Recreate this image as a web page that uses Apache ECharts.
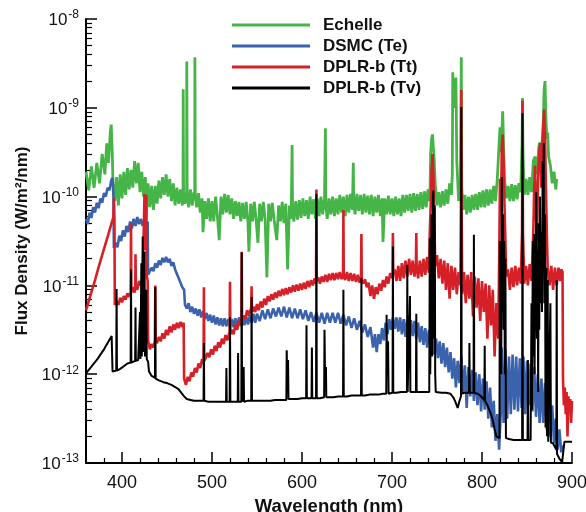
<!DOCTYPE html>
<html><head><meta charset="utf-8">
<script src="https://cdn.jsdelivr.net/npm/echarts@6/dist/echarts.min.js"></script>
<style>html,body{margin:0;padding:0;background:#fff}#c{width:586px;height:512px}</style>
</head><body><div id="c"></div>
<script>
// Series names (legend order)
const seriesNames = ['Echelle', 'DSMC (Te)', 'DPLR-b (Tt)', 'DPLR-b (Tv)'];
// Tick values
const xMajorTicks = [400, 500, 600, 700, 800, 900];
const xMinorTicks = [380, 420, 440, 460, 480, 520, 540, 560, 580, 620, 640, 660, 680, 720, 740, 760, 780, 820, 840, 860, 880];
const yDecades = [-13, -12, -11, -10, -9, -8];

// Data: [wavelength (nm), log10 flux density (W/m^2/nm)]
const echelleLog = [[360,-9.72],[363,-9.93],[366,-9.66],[369,-9.90],[372,-9.62],[375,-9.85],[378,-9.52],[381,-9.75],[383,-9.40],[385,-9.62],[387,-9.28],[388,-9.19],[389,-9.45],[390,-9.85],[392,-10.05],[394,-9.78],[396,-10.10],[398,-9.75],[400,-10.02],[402,-9.72],[404,-9.98],[406,-9.68],[408,-9.92],[410,-9.70],[412,-9.90],[414,-9.60],[416,-9.85],[418,-9.62],[420,-9.95],[422,-9.72],[424,-10.0],[426,-9.78],[427,-10.23],[429,-9.85],[431,-10.12],[433,-9.88],[435,-10.15],[437,-9.88],[439,-10.08],[441,-9.82],[443,-10.02],[445,-9.78],[447,-9.98],[449,-9.75],[451,-10.0],[453,-9.80],[455,-10.05],[457,-9.85],[459,-10.10],[461,-9.90],[463,-10.08],[465,-9.92],[467,-10.1],[467.8,-10.0],[468,-8.79],[468.4,-9.95],[470,-10.08],[471.8,-9.95],[472,-8.48],[472.4,-9.95],[474,-10.12],[476,-9.92],[478,-10.10],[480,-9.95],[480.8,-10.0],[481,-8.43],[481.4,-9.98],[483,-10.12],[485,-9.96],[487,-10.18],[489,-10.02],[490,-10.40],[492,-10.05],[494,-10.25],[496,-10.02],[498,-10.28],[500,-10.05],[502,-10.28],[504,-10.00],[506,-10.22],[508,-10.49],[510,-10.0],[512,-10.20],[514,-9.97],[516,-10.18],[518,-9.98],[520,-10.20],[522,-10.02],[524,-10.25],[526,-10.05],[528,-10.22],[530,-10.06],[532,-10.28],[534,-10.07],[536,-10.25],[538,-10.06],[540,-10.30],[541,-10.62],[543,-10.08],[545,-10.28],[547,-10.06],[549,-10.26],[551,-10.52],[553,-10.08],[555,-10.28],[557,-10.06],[559,-10.25],[561,-10.91],[563,-10.08],[565,-10.28],[567,-10.07],[569,-10.26],[572,-10.49],[574,-10.10],[576,-10.28],[578,-10.06],[580,-10.30],[582,-10.08],[584,-10.82],[586,-10.10],[588,-10.25],[589,-9.42],[589.5,-10.15],[591,-10.28],[593,-10.05],[595,-10.26],[597,-10.04],[599,-10.24],[601,-10.02],[603,-10.22],[605,-10.04],[607,-10.25],[609,-10.00],[611,-10.20],[613,-10.03],[615,-10.25],[617,-10.02],[619,-10.22],[621,-10.0],[623,-10.20],[625,-10.02],[626,-9.23],[626.5,-10.1],[628,-10.25],[630,-10.02],[632,-10.20],[634,-10.0],[636,-10.22],[638,-10.02],[640,-10.20],[642,-9.98],[644,-10.18],[646,-10.0],[648,-10.22],[650,-9.98],[652,-10.18],[654,-9.97],[656,-10.15],[657,-9.62],[657.5,-10.08],[659,-10.2],[661,-9.97],[663,-10.16],[665,-9.98],[667,-10.20],[669,-9.97],[671,-10.18],[673,-9.99],[675,-10.20],[677,-9.98],[679,-10.22],[681,-10.0],[683,-10.18],[685,-9.98],[687,-10.22],[689,-10.02],[690,-10.51],[692,-10.02],[694,-10.2],[696,-9.99],[698,-10.2],[700,-10.02],[702,-10.22],[704,-10.0],[706,-10.2],[708,-10.02],[710,-10.22],[712,-9.98],[714,-10.18],[716,-9.98],[718,-10.16],[720,-9.97],[722,-10.18],[724,-9.96],[726,-10.16],[728,-9.97],[730,-10.15],[732,-9.95],[734,-10.14],[736,-9.94],[738,-10.12],[740,-9.92],[742,-10.05],[743,-9.50],[744,-9.35],[745,-9.30],[746,-9.45],[747,-9.60],[748,-9.85],[750,-10.10],[752,-9.95],[754,-10.12],[756,-9.94],[758,-10.10],[760,-9.92],[762,-10.08],[764,-9.85],[766,-9.98],[767,-9.75],[767.5,-8.60],[768.5,-9.00],[771,-8.66],[772,-9.6],[774,-10.05],[776,-9.90],[777,-8.43],[777.5,-9.9],[779,-10.15],[781,-9.98],[783,-10.20],[785,-10.0],[787,-10.18],[789,-9.98],[791,-10.15],[793,-9.97],[795,-10.15],[797,-9.95],[799,-10.12],[801,-9.93],[803,-10.12],[805,-9.92],[807,-10.10],[809,-9.92],[811,-10.08],[813,-9.88],[815,-10.05],[817,-9.80],[819,-9.40],[820,-9.22],[821,-9.5],[822,-9.30],[823,-9.04],[824,-9.45],[825,-9.80],[827,-10.02],[829,-9.88],[831,-10.05],[833,-9.86],[835,-10.05],[837,-9.87],[839,-10.03],[841,-9.85],[843,-9.95],[844.5,-9.4],[845,-8.89],[845.5,-9.5],[847,-9.98],[849,-9.80],[851,-9.98],[853,-9.78],[855,-9.95],[857,-9.60],[859,-9.55],[861,-9.75],[863,-9.45],[864,-9.39],[865,-9.6],[866,-9.50],[868,-9.2],[869,-8.80],[870,-8.70],[871,-9.1],[872,-9.35],[873,-9.28],[874,-9.55],[876,-9.65],[878,-9.85],[880,-9.72],[882,-9.92],[883,-9.80]];

const dsmcLog = [[360,-10.25],[362,-10.31],[364,-10.18],[366,-10.24],[368,-10.12],[370,-10.18],[372,-10.07],[374,-10.13],[376,-10.02],[378,-10.07],[380,-9.96],[382,-10.00],[384,-9.90],[386,-9.93],[388,-9.82],[389.5,-9.79],[390.5,-10.0],[391,-10.58],[393,-10.52],[395,-10.57],[397,-10.44],[399,-10.50],[401,-10.38],[403,-10.45],[405,-10.33],[407,-10.40],[409,-10.28],[411,-10.36],[413,-10.25],[415,-10.33],[417,-10.23],[419,-10.31],[421,-10.25],[423,-10.33],[425,-10.26],[427,-10.32],[428.5,-10.28],[429,-10.88],[431,-10.84],[433,-10.80],[435,-10.84],[437,-10.75],[439,-10.80],[441,-10.72],[443,-10.77],[445,-10.69],[447,-10.74],[449,-10.68],[451,-10.74],[453,-10.70],[455,-10.78],[457,-10.74],[459,-10.82],[461,-10.82],[463,-10.92],[465,-10.92],[467,-11.02],[469,-11.05],[470,-11.22],[472,-11.26],[474,-11.20],[476,-11.30],[478,-11.24],[480,-11.32],[482,-11.26],[484,-11.34],[486,-11.27],[488,-11.36],[490,-11.29],[492,-11.38],[494,-11.31],[496,-11.40],[498,-11.33],[500,-11.42],[502,-11.34],[504,-11.44],[506,-11.36],[508,-11.45],[510,-11.37],[512,-11.46],[514,-11.37],[516,-11.46],[518,-11.38],[520,-11.47],[522,-11.38],[524,-11.47],[526,-11.37],[528,-11.47],[530,-11.36],[532,-11.46],[534,-11.35],[536,-11.45],[538,-11.35],[540,-11.44],[542,-11.34],[544,-11.42],[546,-11.32],[548,-11.42],[550,-11.32],[553,-11.40],[556,-11.28],[559,-11.38],[562,-11.27],[565,-11.37],[568,-11.26],[571,-11.35],[574,-11.25],[577,-11.35],[580,-11.24],[583,-11.36],[586,-11.25],[589,-11.37],[592,-11.26],[595,-11.37],[598,-11.27],[601,-11.38],[604,-11.28],[607,-11.40],[610,-11.30],[613,-11.41],[616,-11.31],[619,-11.42],[622,-11.31],[625,-11.43],[628,-11.31],[631,-11.42],[634,-11.31],[637,-11.42],[640,-11.31],[643,-11.43],[646,-11.33],[649,-11.45],[652,-11.35],[655,-11.48],[658,-11.37],[661,-11.50],[664,-11.40],[667,-11.53],[670,-11.44],[673,-11.58],[676,-11.47],[679,-11.70],[681,-11.55],[683,-11.75],[685,-11.55],[687,-11.66],[689,-11.48],[691,-11.62],[693,-11.42],[695,-11.55],[697,-11.38],[699,-11.50],[701,-11.36],[703,-11.49],[705,-11.36],[707,-11.52],[709,-11.36],[711,-11.55],[713,-11.38],[715,-11.58],[717,-11.38],[719,-11.56],[721,-11.39],[723,-11.57],[725,-11.40],[727,-11.60],[729,-11.42],[731,-11.64],[733,-11.46],[735,-11.67],[737,-11.48],[739,-11.70],[741,-11.50],[743,-11.72],[745,-11.55],[747,-11.78],[749,-11.60],[751,-11.82],[753,-11.63],[755,-11.88],[757,-11.65],[759,-11.92],[761,-11.70],[763,-11.98],[765,-11.75],[767,-12.05],[769,-11.82],[771,-12.15],[773,-11.85],[775,-12.10],[777,-11.80],[779,-12.22],[781,-11.90],[783,-12.38],[785,-11.92],[787,-12.25],[789,-11.95],[791,-12.30],[793,-11.98],[795,-12.35],[797,-12.0],[799,-12.42],[801,-12.05],[803,-12.40],[805,-12.08],[807,-12.50],[809,-12.15],[811,-12.60],[813,-12.30],[815,-12.75],[817,-12.45],[819,-12.85],[821,-12.40],[822,-11.70],[824,-12.55],[826,-11.72],[828,-12.50],[830,-11.80],[832,-12.45],[834,-11.78],[836,-12.40],[838,-11.80],[840,-12.42],[842,-11.82],[844,-12.38],[846,-11.80],[848,-12.45],[850,-11.85],[852,-12.35],[854,-11.88],[856,-12.42],[858,-11.92],[860,-12.48],[862,-12.0],[864,-12.55],[866,-12.05],[868,-12.55],[870,-12.1],[872,-12.62],[874,-12.25],[876,-12.70],[878,-12.35],[880,-12.78],[882,-12.50],[884,-12.85],[886,-12.62],[888,-12.88],[889,-12.80]];

const dplrTtLog = [[360,-11.28],[365,-11.11],[370,-10.94],[375,-10.76],[380,-10.59],[385,-10.42],[389,-10.28],[390.5,-10.23],[391,-10.02],[391.6,-10.25],[392,-11.22],[394,-11.18],[396,-11.22],[398,-11.14],[400,-11.19],[402,-11.12],[404,-11.16],[406,-11.09],[408,-11.13],[409.7,-11.08],[410,-10.30],[410.4,-11.08],[412,-11.02],[414,-11.08],[414.8,-11.02],[415,-10.65],[415.4,-11.0],[417,-11.05],[419,-10.95],[421,-11.00],[423,-10.93],[424.6,-10.95],[425,-9.97],[425.6,-10.55],[426.4,-10.60],[427,-9.98],[427.6,-10.90],[428.5,-10.95],[429,-11.62],[431,-11.72],[433,-11.66],[435,-11.70],[436.6,-11.62],[437,-11.00],[437.4,-11.62],[439,-11.65],[441,-11.58],[443,-11.63],[445,-11.54],[447,-11.60],[449,-11.50],[451,-11.56],[453,-11.46],[455,-11.53],[457,-11.44],[459,-11.50],[461,-11.42],[463,-11.48],[465,-11.41],[467,-11.47],[468.5,-11.42],[469,-12.05],[471,-12.12],[473,-12.03],[475,-12.08],[477,-11.98],[479,-12.03],[481,-11.93],[483,-11.98],[485,-11.88],[487,-11.93],[489,-11.83],[490.6,-11.88],[491,-11.02],[491.4,-11.85],[493,-11.82],[495,-11.76],[497,-11.81],[499,-11.72],[501,-11.78],[503,-11.68],[505,-11.74],[507,-11.64],[509,-11.70],[511,-11.60],[513,-11.66],[515,-11.56],[517,-11.62],[519.6,-11.52],[520,-10.96],[520.4,-11.55],[522,-11.50],[524,-11.55],[526,-11.44],[528,-11.50],[530,-11.40],[532.6,-11.45],[533,-10.62],[533.4,-11.40],[535,-11.34],[537,-11.38],[539,-11.28],[541,-11.34],[543.6,-11.25],[544,-11.01],[544.4,-11.30],[546,-11.24],[548,-11.30],[550,-11.21],[552,-11.28],[554,-11.18],[556,-11.25],[558,-11.15],[560,-11.22],[562,-11.12],[564,-11.18],[566,-11.10],[568,-11.16],[570,-11.08],[572,-11.14],[574,-11.06],[576,-11.12],[578,-11.04],[580,-11.11],[582,-11.03],[584,-11.10],[586,-11.02],[588,-11.08],[590,-11.00],[592,-11.07],[594,-10.99],[596,-11.06],[598,-10.98],[600,-11.05],[602,-10.97],[604,-11.04],[606,-10.95],[608,-11.02],[610,-10.94],[612,-11.0],[614,-10.92],[615.6,-10.98],[616,-9.92],[616.4,-10.95],[618,-10.91],[620,-10.98],[622,-10.90],[624,-10.96],[626,-10.88],[628,-10.96],[630,-10.87],[632,-10.94],[634,-10.86],[636,-10.94],[638,-10.86],[640,-10.93],[642,-10.85],[644,-10.93],[645.6,-10.88],[646,-10.15],[646.4,-10.90],[648,-10.94],[650,-10.85],[652,-10.95],[654,-10.86],[656,-10.95],[658,-10.87],[660,-10.96],[662,-10.88],[664,-10.97],[665.6,-10.90],[666,-10.42],[666.4,-10.95],[668,-10.98],[670,-10.93],[672,-11.02],[674,-10.97],[676,-11.12],[678,-11.00],[680,-11.15],[682,-11.02],[684,-11.10],[686,-10.98],[688,-11.06],[690,-10.94],[692,-11.02],[694,-10.90],[696,-10.98],[698,-10.86],[700.6,-10.92],[701,-10.41],[701.4,-10.88],[703,-10.82],[705,-10.95],[707,-10.78],[709,-10.95],[711,-10.75],[713,-10.92],[715,-10.72],[717,-10.90],[719,-10.70],[721,-10.88],[723,-10.72],[725,-10.90],[726.6,-10.75],[727,-10.41],[727.4,-10.78],[729,-10.92],[731,-10.72],[733,-10.90],[735,-10.70],[737,-10.88],[739,-10.68],[741,-10.86],[742,-10.4],[743,-10.1],[744,-9.70],[745,-9.52],[746,-9.75],[747,-10.2],[748,-10.78],[750,-10.66],[752,-10.92],[754,-10.70],[756,-10.98],[758,-10.72],[760,-11.05],[762,-10.75],[764,-11.15],[766,-10.78],[768,-11.05],[770,-10.80],[772,-11.10],[774,-10.85],[776,-11.0],[776.7,-10.0],[777,-8.80],[777.3,-10.0],[778,-11.1],[780,-10.85],[782,-11.20],[784,-10.88],[786,-11.15],[788,-10.85],[790,-11.35],[792,-10.90],[794,-11.25],[796,-10.92],[798,-11.40],[800,-10.95],[802,-11.30],[804,-10.98],[806,-11.60],[808,-11.00],[810,-11.45],[812,-11.05],[814,-11.80],[816,-11.20],[818,-11.6],[819,-10.8],[820,-9.80],[821,-10.2],[822,-9.45],[823,-9.30],[824,-9.60],[825,-10.10],[826,-10.5],[827,-10.9],[829,-10.82],[831,-11.05],[833,-10.80],[835,-11.02],[837,-10.78],[839,-11.0],[841,-10.80],[843,-10.98],[844.5,-10.4],[845,-8.92],[845.5,-10.4],[847,-10.98],[849,-10.78],[851,-11.00],[853,-10.76],[855,-10.95],[857,-10.4],[858,-9.9],[859,-9.65],[860,-10.2],[861,-10.5],[862,-9.95],[863,-9.60],[864,-9.45],[865,-9.40],[866,-9.90],[867,-9.50],[868,-9.20],[869,-9.02],[870,-9.30],[871,-9.90],[872,-10.4],[873,-10.8],[875,-11.0],[877,-10.78],[879,-11.05],[881,-10.80],[883,-11.0],[885,-10.80],[887,-10.95],[888,-10.82],[889.5,-10.85],[890,-12.05],[891,-12.35],[892,-12.15],[893,-12.45],[894,-12.20],[895,-12.70],[896,-12.25],[897,-12.40],[898,-12.28],[899,-12.55],[900,-12.30]];

const dplrTvLog = [[360,-11.99],[364,-11.94],[368,-11.89],[372,-11.84],[376,-11.78],[380,-11.72],[384,-11.65],[388.5,-11.57],[389.5,-11.97],[393.6,-11.96],[394,-11.04],[394.4,-11.96],[398,-11.94],[402,-11.91],[406,-11.88],[409.6,-11.87],[410,-10.82],[410.4,-11.87],[412,-11.86],[414.6,-11.85],[415,-11.25],[415.4,-11.85],[418,-11.84],[419.6,-11.84],[420,-11.30],[420.5,-11.83],[421.5,-10.75],[422,-11.80],[423,-10.45],[423.6,-11.6],[424.4,-11.75],[425,-10.62],[425.6,-11.8],[426.4,-11.7],[427,-11.05],[427.5,-11.83],[429,-11.86],[430,-11.97],[433,-12.02],[436.6,-12.04],[437,-11.02],[437.4,-12.05],[441,-12.07],[446,-12.09],[450,-12.10],[455,-12.12],[460,-12.15],[463,-12.17],[466,-12.21],[469,-12.25],[472,-12.28],[476,-12.29],[480,-12.30],[485,-12.30],[490.6,-12.30],[491,-11.65],[491.4,-12.30],[496,-12.31],[500,-12.31],[505,-12.31],[510,-12.31],[515.6,-12.31],[516,-11.93],[516.4,-12.31],[519.6,-12.31],[520,-11.36],[520.4,-12.31],[525,-12.31],[528.6,-12.31],[529,-11.76],[529.4,-12.31],[532.6,-12.31],[533,-10.63],[533.4,-12.31],[534.8,-12.31],[535.2,-11.92],[535.6,-12.31],[539,-12.30],[543.6,-12.30],[544,-11.13],[544.4,-12.30],[550,-12.30],[555,-12.30],[560,-12.30],[565,-12.30],[570,-12.29],[575,-12.29],[580,-12.29],[582.6,-12.29],[583,-11.73],[583.5,-12.0],[584.5,-11.84],[585,-12.28],[590,-12.28],[595,-12.28],[600,-12.27],[604.6,-12.27],[605,-11.45],[605.4,-12.27],[610.6,-12.27],[611,-11.70],[611.4,-12.27],[615.6,-12.27],[616,-9.97],[616.4,-12.27],[620,-12.27],[624.6,-12.26],[625,-11.50],[625.6,-12.0],[626.6,-11.92],[627,-12.26],[630,-12.26],[635,-12.26],[640,-12.25],[645.6,-12.25],[646,-11.05],[646.4,-12.25],[650,-12.25],[655,-12.24],[660,-12.24],[665.6,-12.24],[666,-10.92],[666.4,-12.24],[670,-12.24],[675,-12.23],[680,-12.23],[685,-12.23],[690,-12.22],[693.6,-12.22],[694,-11.33],[694.6,-12.0],[695.6,-11.63],[696.2,-12.22],[700.6,-12.21],[701,-10.56],[701.4,-12.21],[705,-12.21],[710,-12.20],[716.6,-12.20],[717,-10.77],[717.4,-12.20],[719.6,-12.20],[720,-11.12],[720.4,-12.20],[726.6,-12.20],[727,-11.32],[727.4,-12.20],[730,-12.20],[735,-12.20],[741.4,-12.20],[742,-10.47],[742.5,-12.0],[743.5,-10.75],[744,-10.2],[744.6,-11.8],[745.4,-10.0],[746,-9.93],[746.6,-11.6],[747.5,-10.1],[748,-12.0],[748.6,-12.2],[755,-12.21],[760,-12.21],[765,-12.22],[768,-12.26],[770,-12.30],[773,-12.38],[775,-12.30],[776.6,-12.25],[777,-8.99],[777.4,-12.22],[780,-12.21],[785.6,-12.21],[786,-11.65],[786.4,-12.21],[790.6,-12.21],[791,-10.43],[791.4,-12.21],[795,-12.22],[798,-12.24],[802.6,-12.29],[803,-11.68],[803.4,-12.30],[806,-12.35],[808,-12.37],[810,-12.45],[812,-12.52],[814,-12.62],[816,-12.70],[818,-12.72],[819.4,-12.72],[819.8,-10.5],[820.2,-12.0],[820.8,-10.95],[821.4,-12.0],[822,-9.78],[822.6,-11.3],[823.4,-10.2],[824,-11.5],[824.6,-10.5],[825.4,-12.0],[826,-10.7],[826.6,-12.72],[830,-12.73],[835,-12.74],[840,-12.74],[844.6,-12.74],[845,-9.06],[845.4,-12.74],[850.6,-12.74],[851,-11.84],[851.4,-12.74],[854,-12.74],[855,-11.2],[855.5,-12.4],[856.5,-10.5],[857,-11.8],[857.8,-10.42],[858.4,-12.0],[859,-10.9],[859.6,-11.5],[860.3,-9.95],[861,-11.6],[861.8,-10.6],[862.4,-12.2],[863,-10.3],[863.6,-11.5],[864.4,-10.0],[865,-11.2],[866,-10.4],[866.6,-11.3],[867.4,-9.6],[868,-10.5],[868.6,-9.40],[869.2,-11.2],[870,-10.2],[870.6,-12.6],[871.5,-10.8],[872.2,-12.7],[873,-10.94],[873.6,-12.76],[876,-11.2],[876.6,-12.77],[879,-12.78],[882.6,-12.85],[883,-10.94],[883.4,-12.9],[886,-12.95],[889,-12.99],[891,-12.99],[891.6,-12.76],[900,-12.76]];

const seriesLogData = [echelleLog, dsmcLog, dplrTtLog, dplrTvLog];
const seriesColors = ['#45b548', '#3b62ad', '#d52027', '#000000'];
const seriesWidths = [2.8, 2.6, 2.6, 2.0];

const yMinorTicks = [];
yDecades.slice(0, -1).forEach(d => { for (let m = 2; m <= 9; m++) yMinorTicks.push(m * Math.pow(10, d)); });

const chart = echarts.init(document.getElementById('c'), null, {renderer: 'canvas'});
const FONT = '"Liberation Sans", Arial, Helvetica, sans-serif';

chart.setOption({
  animation: false,
  backgroundColor: '#fff',
  textStyle: {fontFamily: FONT},
  color: seriesColors,
  grid: {left: 86, right: 14, top: 19, bottom: 49, containLabel: false, outerBoundsMode: 'none'},
  legend: {
    orient: 'vertical', left: 232, top: 16, padding: 0, icon: 'rect',
    itemWidth: 78, itemHeight: 3, itemGap: 3,
    data: seriesNames,
    textStyle: {fontFamily: FONT, fontSize: 17, fontWeight: 'bold', color: '#111', lineHeight: 18, padding: [0, 0, 0, 8]}
  },
  xAxis: [{
    type: 'value', min: 360, max: 900,
    name: 'Wavelength (nm)', nameLocation: 'middle', nameGap: 34,
    nameTextStyle: {fontFamily: FONT, fontSize: 18.5, fontWeight: 'bold', color: '#111'},
    axisLine: {show: true, onZero: false, lineStyle: {color: '#000', width: 2}},
    axisTick: {show: true, inside: true, length: 11, customValues: xMajorTicks, lineStyle: {color: '#000', width: 1.5}},
    axisLabel: {customValues: xMajorTicks, fontFamily: FONT, fontSize: 18, color: '#111', margin: 11},
    splitLine: {show: false}
  }, {
    type: 'value', min: 360, max: 900, position: 'bottom',
    axisLine: {show: false},
    axisTick: {show: true, inside: true, length: 5, customValues: xMinorTicks, lineStyle: {color: '#000', width: 1.2}},
    axisLabel: {show: false}, splitLine: {show: false}
  }],
  yAxis: [{
    type: 'log', logBase: 10, min: 1e-13, max: 1e-8,
    name: 'Flux Density (W/m\u00b2/nm)', nameLocation: 'middle', nameGap: 48, nameRotate: 90,
    nameTextStyle: {fontFamily: FONT, fontSize: 17, fontWeight: 'bold', color: '#111'},
    axisLine: {show: true, onZero: false, lineStyle: {color: '#000', width: 2}},
    axisTick: {show: true, inside: true, length: 11, lineStyle: {color: '#000', width: 1.5}},
    axisLabel: {
      margin: 7, color: '#111',
      formatter: v => '{b|10}{s|' + Math.round(Math.log10(v)) + '}',
      rich: {
        b: {fontFamily: FONT, fontSize: 17, color: '#111', verticalAlign: 'bottom', lineHeight: 20},
        s: {fontFamily: FONT, fontSize: 12, color: '#111', verticalAlign: 'top', lineHeight: 20, padding: [0, 0, 6, 1]}
      }
    },
    splitLine: {show: false}
  }, {
    type: 'log', logBase: 10, min: 1e-13, max: 1e-8, position: 'left',
    axisLine: {show: false},
    axisTick: {show: true, inside: true, length: 6, customValues: yMinorTicks, lineStyle: {color: '#000', width: 1.2}},
    axisLabel: {show: false}, splitLine: {show: false}
  }],
  series: seriesLogData.map((d, i) => ({
    name: seriesNames[i], type: 'line', xAxisIndex: 0, yAxisIndex: 0,
    showSymbol: false, symbol: 'none', sampling: null,
    lineStyle: {color: seriesColors[i], width: seriesWidths[i], join: 'bevel'},
    itemStyle: {color: seriesColors[i]},
    data: d.map(p => [p[0], Math.pow(10, p[1])])
  }))
});
</script>
</body></html>
